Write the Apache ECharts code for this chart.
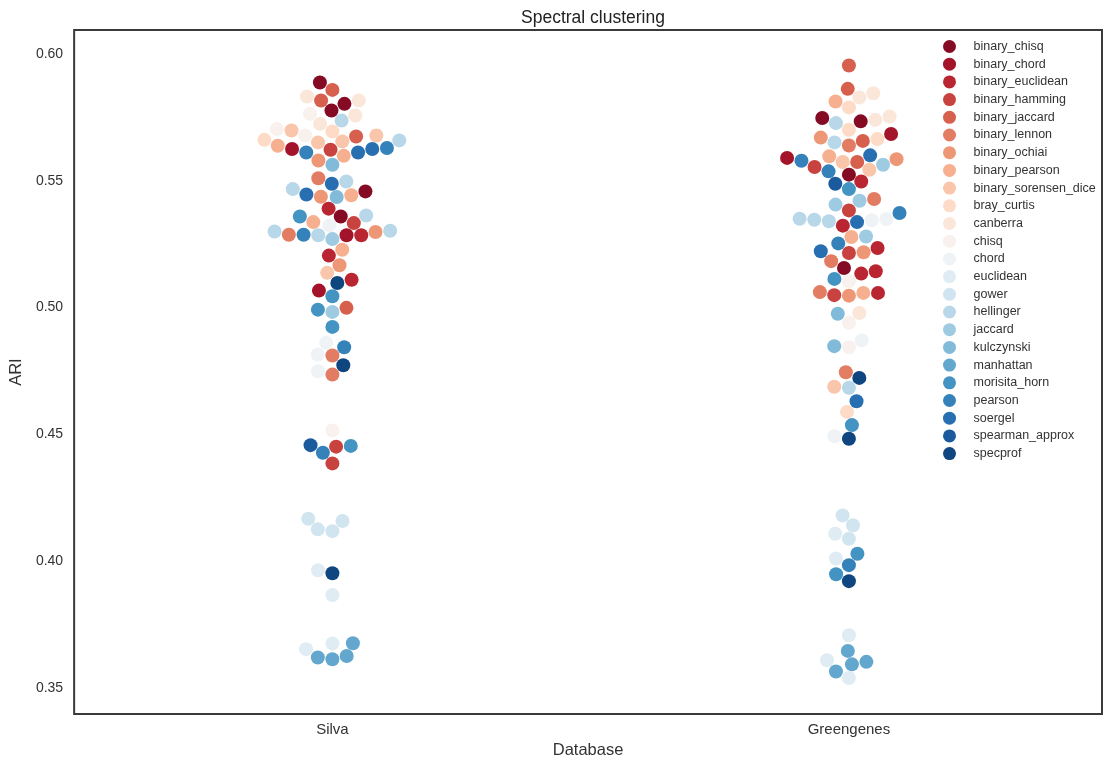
<!DOCTYPE html>
<html>
<head>
<meta charset="utf-8">
<script src="https://cdn.jsdelivr.net/npm/echarts@6/dist/echarts.min.js"></script>
<style>
  html, body { margin: 0; padding: 0; background: #fff; }
  #chart { width: 1105px; height: 764px; }
</style>
</head>
<body>
<div id="chart"></div>
<script>
const databases = ["Silva", "Greengenes"];
const metrics = [
  "binary_chisq", "binary_chord", "binary_euclidean", "binary_hamming", "binary_jaccard",
  "binary_lennon", "binary_ochiai", "binary_pearson", "binary_sorensen_dice", "bray_curtis",
  "canberra", "chisq", "chord", "euclidean", "gower", "hellinger", "jaccard", "kulczynski",
  "manhattan", "morisita_horn", "pearson", "soergel", "spearman_approx", "specprof"
];
// RdBu, 24 levels
const palette = [
  "#850a24", "#a31329", "#b92632", "#c8433f", "#d6604d", "#e27c62", "#ee9777", "#f6b090",
  "#f9c5ab", "#fddbc7", "#fbe6da", "#f8f1ed", "#eff3f6", "#e0ecf3", "#d1e5f0", "#b8d8e9",
  "#9fcbe2", "#82bbd9", "#63a7ce", "#4393c3", "#3581ba", "#286fb1", "#1b5b9d", "#10467f"
];
const yTicks = [0.35, 0.40, 0.45, 0.50, 0.55, 0.60];

// [metric index, ARI]
const silva = [
  [0, 0.5887], [4, 0.5858], [4, 0.5816], [10, 0.5816], [0, 0.5803], [10, 0.5832],
  [0, 0.5777], [11, 0.5764], [15, 0.5737], [10, 0.5724], [10, 0.5757], [9, 0.5694],
  [11, 0.5678], [8, 0.5678], [4, 0.5674], [8, 0.5698], [11, 0.5704], [9, 0.5661],
  [7, 0.5638], [21, 0.5625], [21, 0.5611], [8, 0.5651], [8, 0.5655], [3, 0.5622],
  [6, 0.5580], [7, 0.5598], [20, 0.5611], [1, 0.5625], [20, 0.5629], [15, 0.5659],
  [17, 0.5563], [15, 0.5467], [7, 0.5443], [15, 0.5497], [21, 0.5488], [5, 0.5510],
  [17, 0.5436], [6, 0.5437], [21, 0.5446], [0, 0.5458],
  [2, 0.5390], [0, 0.5359], [3, 0.5333], [12, 0.5324], [7, 0.5337], [19, 0.5359],
  [15, 0.5363], [15, 0.5303], [6, 0.5298], [20, 0.5287], [15, 0.5285], [16, 0.5270],
  [1, 0.5285], [2, 0.5285], [5, 0.5287], [15, 0.5300], [7, 0.5228], [2, 0.5205],
  [6, 0.5167], [8, 0.5137], [23, 0.5097], [2, 0.5110], [1, 0.5067], [19, 0.5045],
  [4, 0.4999], [16, 0.4983], [19, 0.4992], [19, 0.4924],
  [12, 0.4861], [20, 0.4844], [12, 0.4815], [5, 0.4811], [23, 0.4773], [12, 0.4749],
  [5, 0.4736], [11, 0.4516], [22, 0.4458], [3, 0.4452], [19, 0.4455], [20, 0.4428],
  [3, 0.4386],
  [14, 0.4168], [14, 0.4126], [14, 0.4119], [14, 0.4159], [13, 0.3965], [23, 0.3953],
  [13, 0.3867], [13, 0.3654], [13, 0.3676], [18, 0.3677], [18, 0.3621], [18, 0.3614],
  [18, 0.3627]
];
const greengenes = [
  [4, 0.5954], [4, 0.5862], [7, 0.5812], [10, 0.5828], [10, 0.5845], [9, 0.5789],
  [10, 0.5753], [10, 0.5740], [0, 0.5734], [9, 0.5701], [15, 0.5727], [0, 0.5747],
  [1, 0.5684], [9, 0.5664], [4, 0.5657], [5, 0.5639], [15, 0.5651], [6, 0.5670],
  [7, 0.5596], [20, 0.5579], [16, 0.5563], [21, 0.5600], [6, 0.5585], [8, 0.5543],
  [3, 0.5554], [8, 0.5574], [4, 0.5574], [1, 0.5590], [20, 0.5537], [0, 0.5524],
  [22, 0.5488], [19, 0.5467], [2, 0.5497], [16, 0.5421], [16, 0.5406], [5, 0.5428],
  [3, 0.5383], [20, 0.5373], [12, 0.5349], [12, 0.5344], [2, 0.5323], [21, 0.5337],
  [15, 0.5340], [15, 0.5346], [15, 0.5350], [7, 0.5278], [16, 0.5280], [20, 0.5253],
  [2, 0.5235], [3, 0.5215], [6, 0.5218], [21, 0.5222], [5, 0.5183], [2, 0.5134],
  [0, 0.5156], [2, 0.5143], [11, 0.5104], [19, 0.5113], [7, 0.5058], [3, 0.5049],
  [6, 0.5047], [2, 0.5058], [5, 0.5061],
  [17, 0.4976], [10, 0.4979], [11, 0.4940], [17, 0.4848], [11, 0.4844], [12, 0.4871],
  [5, 0.4745], [23, 0.4723], [8, 0.4688], [15, 0.4684], [21, 0.4631], [9, 0.4589],
  [19, 0.4537], [12, 0.4493], [23, 0.4483],
  [14, 0.4181], [14, 0.4142], [13, 0.4109], [14, 0.4089], [13, 0.4011], [19, 0.4030],
  [20, 0.3985], [19, 0.3949], [23, 0.3922],
  [13, 0.3709], [18, 0.3647], [13, 0.3610], [18, 0.3594], [18, 0.3604], [18, 0.3566],
  [13, 0.3540]
];

const FONT = "'Liberation Sans', Arial, sans-serif";
const chart = echarts.init(document.getElementById("chart"));

const option = {
  animation: false,
  textStyle: { fontFamily: FONT },
  title: {
    text: "Spectral clustering",
    left: 516,
    top: 4,
    textStyle: { fontSize: 17.5, fontWeight: "normal", color: "#222", fontFamily: FONT }
  },
  grid: {
    left: 74, right: 3, top: 30, bottom: 49,
    show: true, borderColor: "#3a3a3a", borderWidth: 2, backgroundColor: "#fff"
  },
  legend: {
    orient: "vertical",
    left: 938,
    top: 35,
    icon: "circle",
    itemWidth: 38,
    itemHeight: 13,
    itemGap: 4.7,
    textStyle: { fontSize: 12.5, color: "#333", lineHeight: 13, fontFamily: FONT },
    data: metrics
  },
  xAxis: {
    type: "value",
    min: -0.5,
    max: 1.49,
    name: "Database",
    nameLocation: "middle",
    nameGap: 27,
    nameTextStyle: { fontSize: 16.5, color: "#333" },
    axisLine: { show: false },
    axisTick: { show: false },
    splitLine: { show: false },
    axisLabel: {
      customValues: [0, 1],
      formatter: v => databases[Math.round(v)],
      fontSize: 15, color: "#333", margin: 8
    }
  },
  yAxis: {
    type: "value",
    min: 0.3398,
    max: 0.6094,
    name: "ARI",
    nameLocation: "middle",
    nameGap: 47,
    nameTextStyle: { fontSize: 16.5, color: "#333" },
    axisLine: { show: false },
    axisTick: { show: false },
    splitLine: { show: false },
    axisLabel: {
      customValues: yTicks,
      formatter: v => v.toFixed(2),
      fontSize: 14, color: "#333", margin: 11
    }
  },
  series: metrics.map((m, i) => ({
    name: m, type: "scatter", data: [], symbolSize: 14,
    itemStyle: { color: palette[i], opacity: 1 }
  }))
};
chart.setOption(option);

// seaborn-style beeswarm, done in pixel space
const R = 7;
function swarm(points, dbIdx) {
  const xyr = points.map(p => {
    const px = chart.convertToPixel({ gridIndex: 0 }, [dbIdx, p[1]]);
    return { m: p[0], v: p[1], x: px[0], y: -px[1], r: R };
  });
  const order = xyr.slice().sort((a, b) => a.y - b.y);
  const mid = order[0].x;
  const placed = [order[0]];
  for (let k = 1; k < order.length; k++) {
    const p = order[k];
    const nb = [];
    for (let j = placed.length - 1; j >= 0; j--) {
      const q = placed[j];
      if (p.y - q.y < p.r + q.r) nb.push(q); else break;
    }
    const cands = [p.x];
    let leftFirst = true;
    nb.forEach(q => {
      const dy = p.y - q.y;
      const dx = Math.sqrt(Math.max((p.r + q.r) ** 2 - dy * dy, 0)) * 1.05;
      if (leftFirst) cands.push(q.x - dx, q.x + dx); else cands.push(q.x + dx, q.x - dx);
      leftFirst = !leftFirst;
    });
    const sorted = cands.map((c, i) => ({ c, i })).sort((a, b) =>
      Math.abs(a.c - mid) - Math.abs(b.c - mid) || a.i - b.i);
    let chosen = sorted[0].c;
    for (const s of sorted) {
      const ok = nb.every(q => (q.x - s.c) ** 2 + (q.y - p.y) ** 2 >= (q.r + p.r) ** 2);
      if (ok) { chosen = s.c; break; }
    }
    p.x = chosen;
    placed.push(p);
  }
  return xyr.map(p => ({
    m: p.m,
    value: [chart.convertFromPixel({ gridIndex: 0 }, [p.x, -p.y])[0], p.v]
  }));
}

const laid = swarm(silva, 0).concat(swarm(greengenes, 1));
chart.setOption({
  series: metrics.map((m, i) => ({
    name: m,
    data: laid.filter(p => p.m === i).map(p => p.value)
  }))
});
</script>
</body>
</html>
